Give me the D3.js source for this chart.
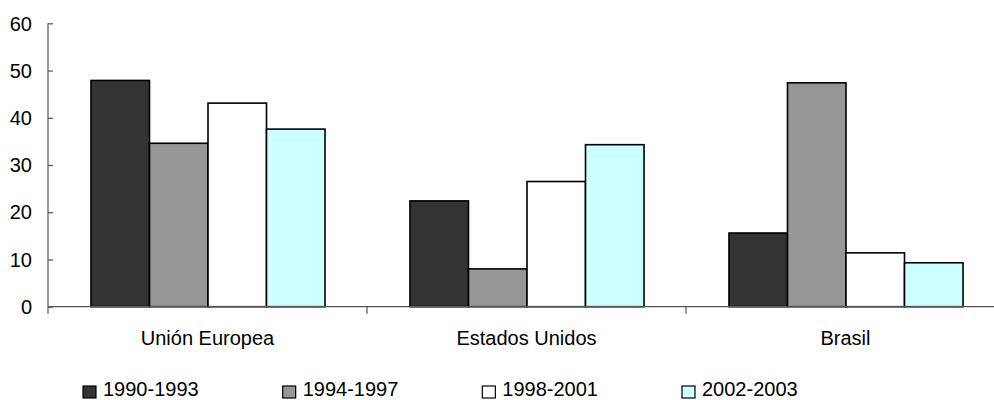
<!DOCTYPE html>
<html>
<head>
<meta charset="utf-8">
<script src="https://cdn.jsdelivr.net/npm/d3@7"></script>
<style>
  html, body { margin: 0; padding: 0; background: #fff; }
  svg { display: block; }
  text { font-family: "Liberation Sans", Arial, sans-serif; fill: #000; }
</style>
</head>
<body>
<div id="chart"></div>
<script>
const categories = ["Unión Europea", "Estados Unidos", "Brasil"];
const seriesNames = ["1990-1993", "1994-1997", "1998-2001", "2002-2003"];
const s1990 = [47.9, 22.4, 15.6];
const s1994 = [34.6, 8.0, 47.4];
const s1998 = [43.1, 26.5, 11.4];
const s2002 = [37.6, 34.3, 9.3];
const yTicks = [0, 10, 20, 30, 40, 50, 60];
const seriesColors = ["#333333", "#969696", "#ffffff", "#ccffff"];

const seriesValues = [s1990, s1994, s1998, s2002];
const W = 994, H = 400;
const svg = d3.select("#chart").append("svg").attr("width", W).attr("height", H);

const y = d3.scaleLinear().domain([0, 60]).range([306.7, 23.3]);
const x0 = d3.scaleBand().domain(categories).range([48, 1005]).padding(0);
const x1 = d3.scaleBand().domain(seriesNames).range([0, x0.bandwidth()])
  .paddingInner(0).paddingOuter(0.726);

// bars
categories.forEach((c, ci) => {
  const g = svg.append("g").attr("transform", `translate(${x0(c)},0)`);
  seriesNames.forEach((s, si) => {
    const v = seriesValues[si][ci];
    g.append("rect")
      .attr("x", x1(s) + 0.5)
      .attr("y", y(v))
      .attr("width", x1.bandwidth())
      .attr("height", y(0) - y(v))
      .attr("fill", seriesColors[si])
      .attr("stroke", "#000")
      .attr("stroke-width", 1.6);
  });
});

// y axis
const yAxis = d3.axisRight(y).tickValues(yTicks).tickSize(5).tickFormat("");
const yg = svg.append("g").attr("transform", "translate(48,0)").call(yAxis);
yg.select(".domain").remove();
yg.selectAll(".tick line").attr("stroke", "#555").attr("stroke-width", 1.2);
svg.append("line").attr("x1", 48).attr("x2", 48).attr("y1", y(60)).attr("y2", y(0) + 7)
  .attr("stroke", "#555").attr("stroke-width", 1.2);
svg.selectAll(".ylab").data(yTicks).enter().append("text")
  .attr("class", "ylab")
  .attr("x", 32).attr("y", d => y(d))
  .attr("dy", "0.36em")
  .attr("text-anchor", "end")
  .style("font-size", "20px")
  .text(d => d);

// x axis
svg.append("line").attr("x1", 48).attr("x2", W).attr("y1", y(0)).attr("y2", y(0))
  .attr("stroke", "#555").attr("stroke-width", 1.2);
categories.forEach((c, i) => {
  if (i > 0) {
    svg.append("line").attr("x1", x0(c)).attr("x2", x0(c))
      .attr("y1", y(0)).attr("y2", y(0) + 7)
      .attr("stroke", "#555").attr("stroke-width", 1.2);
  }
  svg.append("text")
    .attr("x", x0(c) + x0.bandwidth() / 2)
    .attr("y", 345)
    .attr("text-anchor", "middle")
    .style("font-size", "20px")
    .text(c);
});

// legend
const legX = d3.scalePoint().domain(seriesNames).range([83, 682]);
seriesNames.forEach((s, i) => {
  svg.append("rect")
    .attr("x", legX(s)).attr("y", 386)
    .attr("width", 13).attr("height", 12)
    .attr("fill", seriesColors[i])
    .attr("stroke", "#000").attr("stroke-width", 1.2);
  svg.append("text")
    .attr("x", legX(s) + 20).attr("y", 396)
    .style("font-size", "20px")
    .text(s);
});
</script>
</body>
</html>
